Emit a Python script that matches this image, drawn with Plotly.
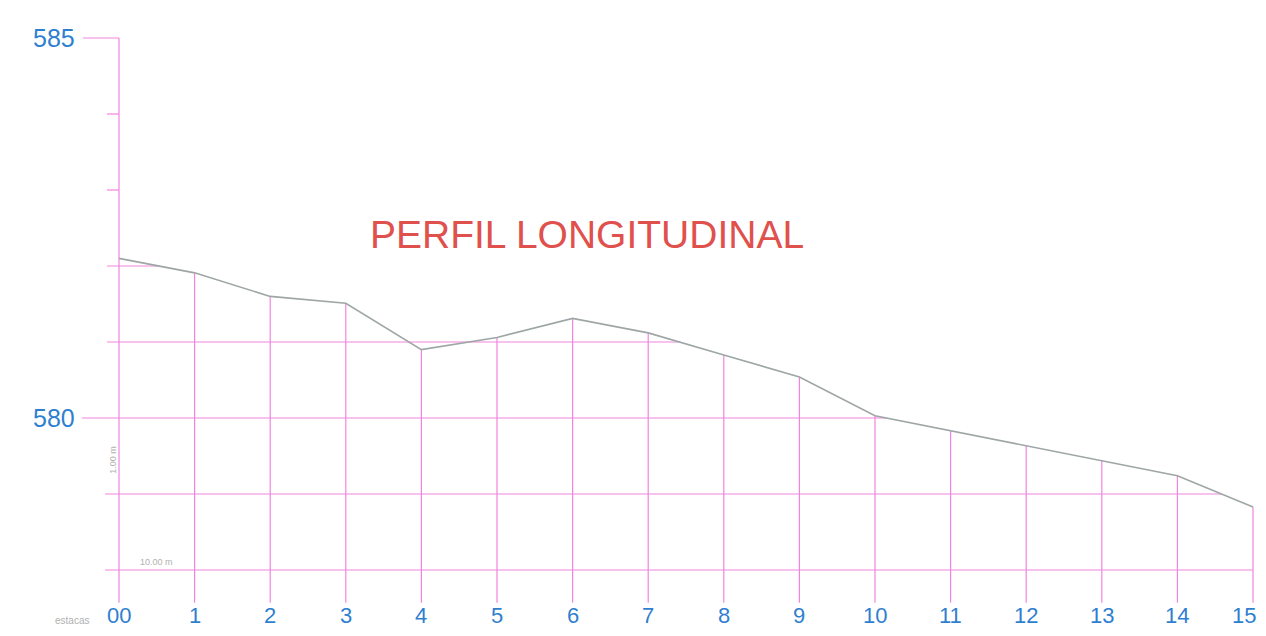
import plotly.graph_objects as go

# ---- data ----
stations = list(range(16))
station_labels = ["00", "1", "2", "3", "4", "5", "6", "7", "8", "9",
                  "10", "11", "12", "13", "14", "15"]
elevation = [582.10, 581.91, 581.60, 581.51, 580.90, 581.06, 581.31, 581.12,
             580.83, 580.54, 580.03, 579.83, 579.64, 579.44, 579.24, 578.83]
y_labels = [585, 580]
grid_levels = [582, 581, 580, 579, 578]
minor_ticks = [584, 583]
title_text = "PERFIL LONGITUDINAL"

# ---- style ----
PINK = "#f384de"
GRAY_LINE = "#9ea6a6"
BLUE = "#2f7fd0"
RED = "#e0504c"
SMALL = "#b0b0b0"
FONT = "Liberation Sans, Arial, sans-serif"

# page has an 8px body margin; figure is 1250x620
px_per_station = 75.6
px_per_m = 76.0
x0_px, y580_px = 111.0, 410.0
W, H = 1250, 620
xr = [-x0_px / px_per_station, (W - x0_px) / px_per_station]
yr = [580 - (H - y580_px) / px_per_m, 580 + y580_px / px_per_m]
bottom = 577.57


def last_cross(level):
    """x where the profile finally drops below the level."""
    xc = stations[-1]
    for i in range(len(stations) - 1):
        a, b = elevation[i], elevation[i + 1]
        if a >= level > b:
            xc = stations[i] + (a - level) / (a - b)
    return xc


fig = go.Figure()

vx, vy = [], []
for s, e in zip(stations, elevation):
    top = 585 if s == 0 else e
    vx += [s, s, None]
    vy += [bottom, top, None]
starts = {582: -0.159, 581: -0.159, 580: -0.489, 579: -0.185, 578: -0.185}
for lv in grid_levels:
    vx += [starts[lv], last_cross(lv), None]
    vy += [lv, lv, None]
vx += [-0.476, 0, None]
vy += [585, 585, None]
for lv in minor_ticks:
    vx += [-0.159, 0, None]
    vy += [lv, lv, None]

fig.add_trace(go.Scatter(x=vx, y=vy, mode="lines",
                         line=dict(color=PINK, width=1.2),
                         hoverinfo="skip", showlegend=False))

fig.add_trace(go.Scatter(x=stations, y=elevation, mode="lines",
                         line=dict(color=GRAY_LINE, width=1.6),
                         showlegend=False, name="Terreno"))

ann = []
for v in y_labels:
    ann.append(dict(x=-0.56, y=v, text=str(v), showarrow=False,
                    xanchor="right", yanchor="middle",
                    font=dict(family=FONT, size=25, color=BLUE)))
for s, lab in zip(stations, station_labels):
    last = s == stations[-1]
    ann.append(dict(x=s + (0.06 if last else 0), y=577.40, text=lab, showarrow=False,
                    xanchor="right" if last else "center", yanchor="middle",
                    font=dict(family=FONT, size=22, color=BLUE)))
ann.append(dict(x=6.19, y=582.42, text=title_text, showarrow=False,
                xanchor="center", yanchor="middle",
                font=dict(family=FONT, size=39, color=RED)))
ann.append(dict(x=-0.08, y=579.45, text="1.00 m", showarrow=False, textangle=-90,
                xanchor="center", yanchor="middle",
                font=dict(family=FONT, size=9, color=SMALL)))
ann.append(dict(x=0.5, y=578.1, text="10.00 m", showarrow=False,
                xanchor="center", yanchor="middle",
                font=dict(family=FONT, size=9, color=SMALL)))
ann.append(dict(x=-0.37, y=577.34, text="estacas", showarrow=False,
                xanchor="right", yanchor="middle",
                font=dict(family=FONT, size=10, color=SMALL)))

fig.update_layout(
    width=W, height=H,
    margin=dict(l=0, r=0, t=0, b=0),
    paper_bgcolor="white", plot_bgcolor="white",
    xaxis=dict(range=xr, visible=False, fixedrange=True),
    yaxis=dict(range=yr, visible=False, fixedrange=True),
    annotations=ann,
    showlegend=False,
)

fig.write_html("out.html")
